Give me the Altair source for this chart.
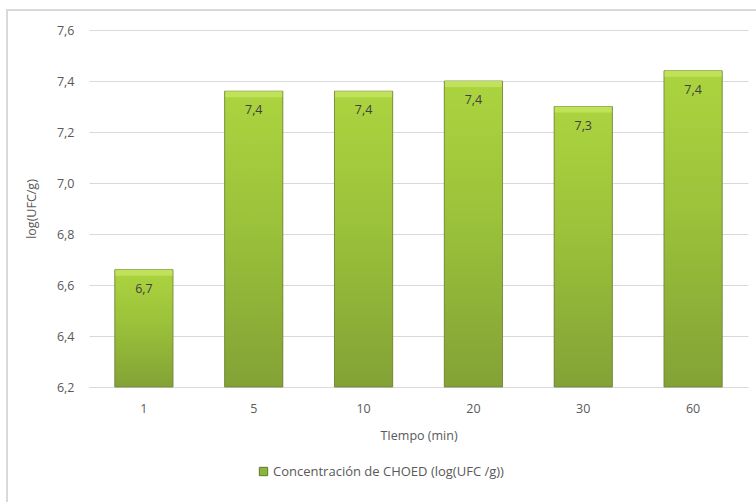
import altair as alt
import pandas as pd

# Time points (min) and measured concentration, log(UFC/g)
tiempos = ["1", "5", "10", "20", "30", "60"]
valores = [6.66, 7.36, 7.36, 7.40, 7.30, 7.44]
serie = "Concentración de CHOED (log(UFC /g))"
y_ticks = [6.2, 6.4, 6.6, 6.8, 7.0, 7.2, 7.4, 7.6]

df = pd.DataFrame({"tiempo": tiempos, "valor": valores, "serie": [serie] * len(tiempos)})

W, H = 659, 357
FONT = "Open Sans"
GREY = "#595959"

x_enc = alt.X(
    "tiempo:N",
    sort=tiempos,
    scale=alt.Scale(paddingInner=0.47, paddingOuter=0.235),
    axis=alt.Axis(
        title="TIempo (min)", labelAngle=0, ticks=False, domain=True,
        domainColor="#d9d9d9", labelPadding=15, titlePadding=15,
    ),
)
y_enc = alt.Y(
    "valor:Q",
    scale=alt.Scale(domain=[6.2, 7.6], zero=False, nice=False),
    axis=alt.Axis(
        title="log(UFC/g)", values=y_ticks, format=".1f", ticks=False,
        domain=False, labelPadding=15, titlePadding=18,
    ),
)

base = alt.Chart(df)

# solid bars carry the legend entry
legend_bars = base.mark_bar().encode(
    x=x_enc,
    y=y_enc,
    y2=alt.datum(6.2),
    color=alt.Color(
        "serie:N",
        scale=alt.Scale(range=["#8db43a"]),
        legend=alt.Legend(
            title=None, orient="none", legendX=168, legendY=435,
            symbolType="square", symbolSize=70, symbolStrokeColor="#5f7a25",
            symbolStrokeWidth=1, labelFontSize=13, labelColor=GREY, labelFont=FONT,
            labelOffset=3, labelLimit=400,
        ),
    ),
)

# shaded bars drawn on top
grad = alt.Gradient(
    gradient="linear",
    stops=[
        alt.GradientStop(color="#acd43f", offset=0),
        alt.GradientStop(color="#9bc23a", offset=0.45),
        alt.GradientStop(color="#83a236", offset=1),
    ],
    x1=0, x2=0, y1=0, y2=1,
)
bars = base.mark_bar(fill=grad, stroke="#6e7f3a", strokeWidth=1, strokeOpacity=0.8).encode(
    x=x_enc, y=y_enc, y2=alt.datum(6.2)
)

# light bevel at the top of each bar
bevel = base.mark_tick(color="#c2e35e", thickness=6, size=57, yOffset=3, opacity=0.9).encode(
    x=x_enc, y=y_enc
)

labels = base.mark_text(baseline="top", dy=13, fontSize=12.5, color="#404040", font=FONT).encode(
    x=x_enc, y=y_enc, text=alt.Text("valor:Q", format=".1f")
)

frame = alt.Chart(df).mark_rect(fill=None, stroke="#d9d9d9", strokeWidth=1.5).encode(
    x=alt.value(-82), x2=alt.value(W + 40), y=alt.value(-20), y2=alt.value(H + 160)
)

chart = (
    alt.layer(frame, legend_bars, bars, bevel, labels)
    .properties(
        width=W, height=H,
        autosize=alt.AutoSizeParams(type="none"),
        padding={"left": 89, "top": 30, "right": 8, "bottom": 115},
        background="white",
    )
    .configure(
        locale=alt.Locale(
            number=alt.NumberLocale(decimal=",", thousands=".", grouping=[3], currency=["", " €"])
        )
    )
    .configure_view(stroke=None)
    .configure_axis(
        grid=True, gridColor="#d9d9d9", gridWidth=1,
        labelFont=FONT, labelFontSize=12.5, labelColor=GREY,
        titleFont=FONT, titleFontSize=12.5, titleColor=GREY, titleFontWeight="normal",
    )
    .configure_axisX(grid=False)
)

chart.save("out.html", embed_options={"renderer": "svg", "actions": False})
